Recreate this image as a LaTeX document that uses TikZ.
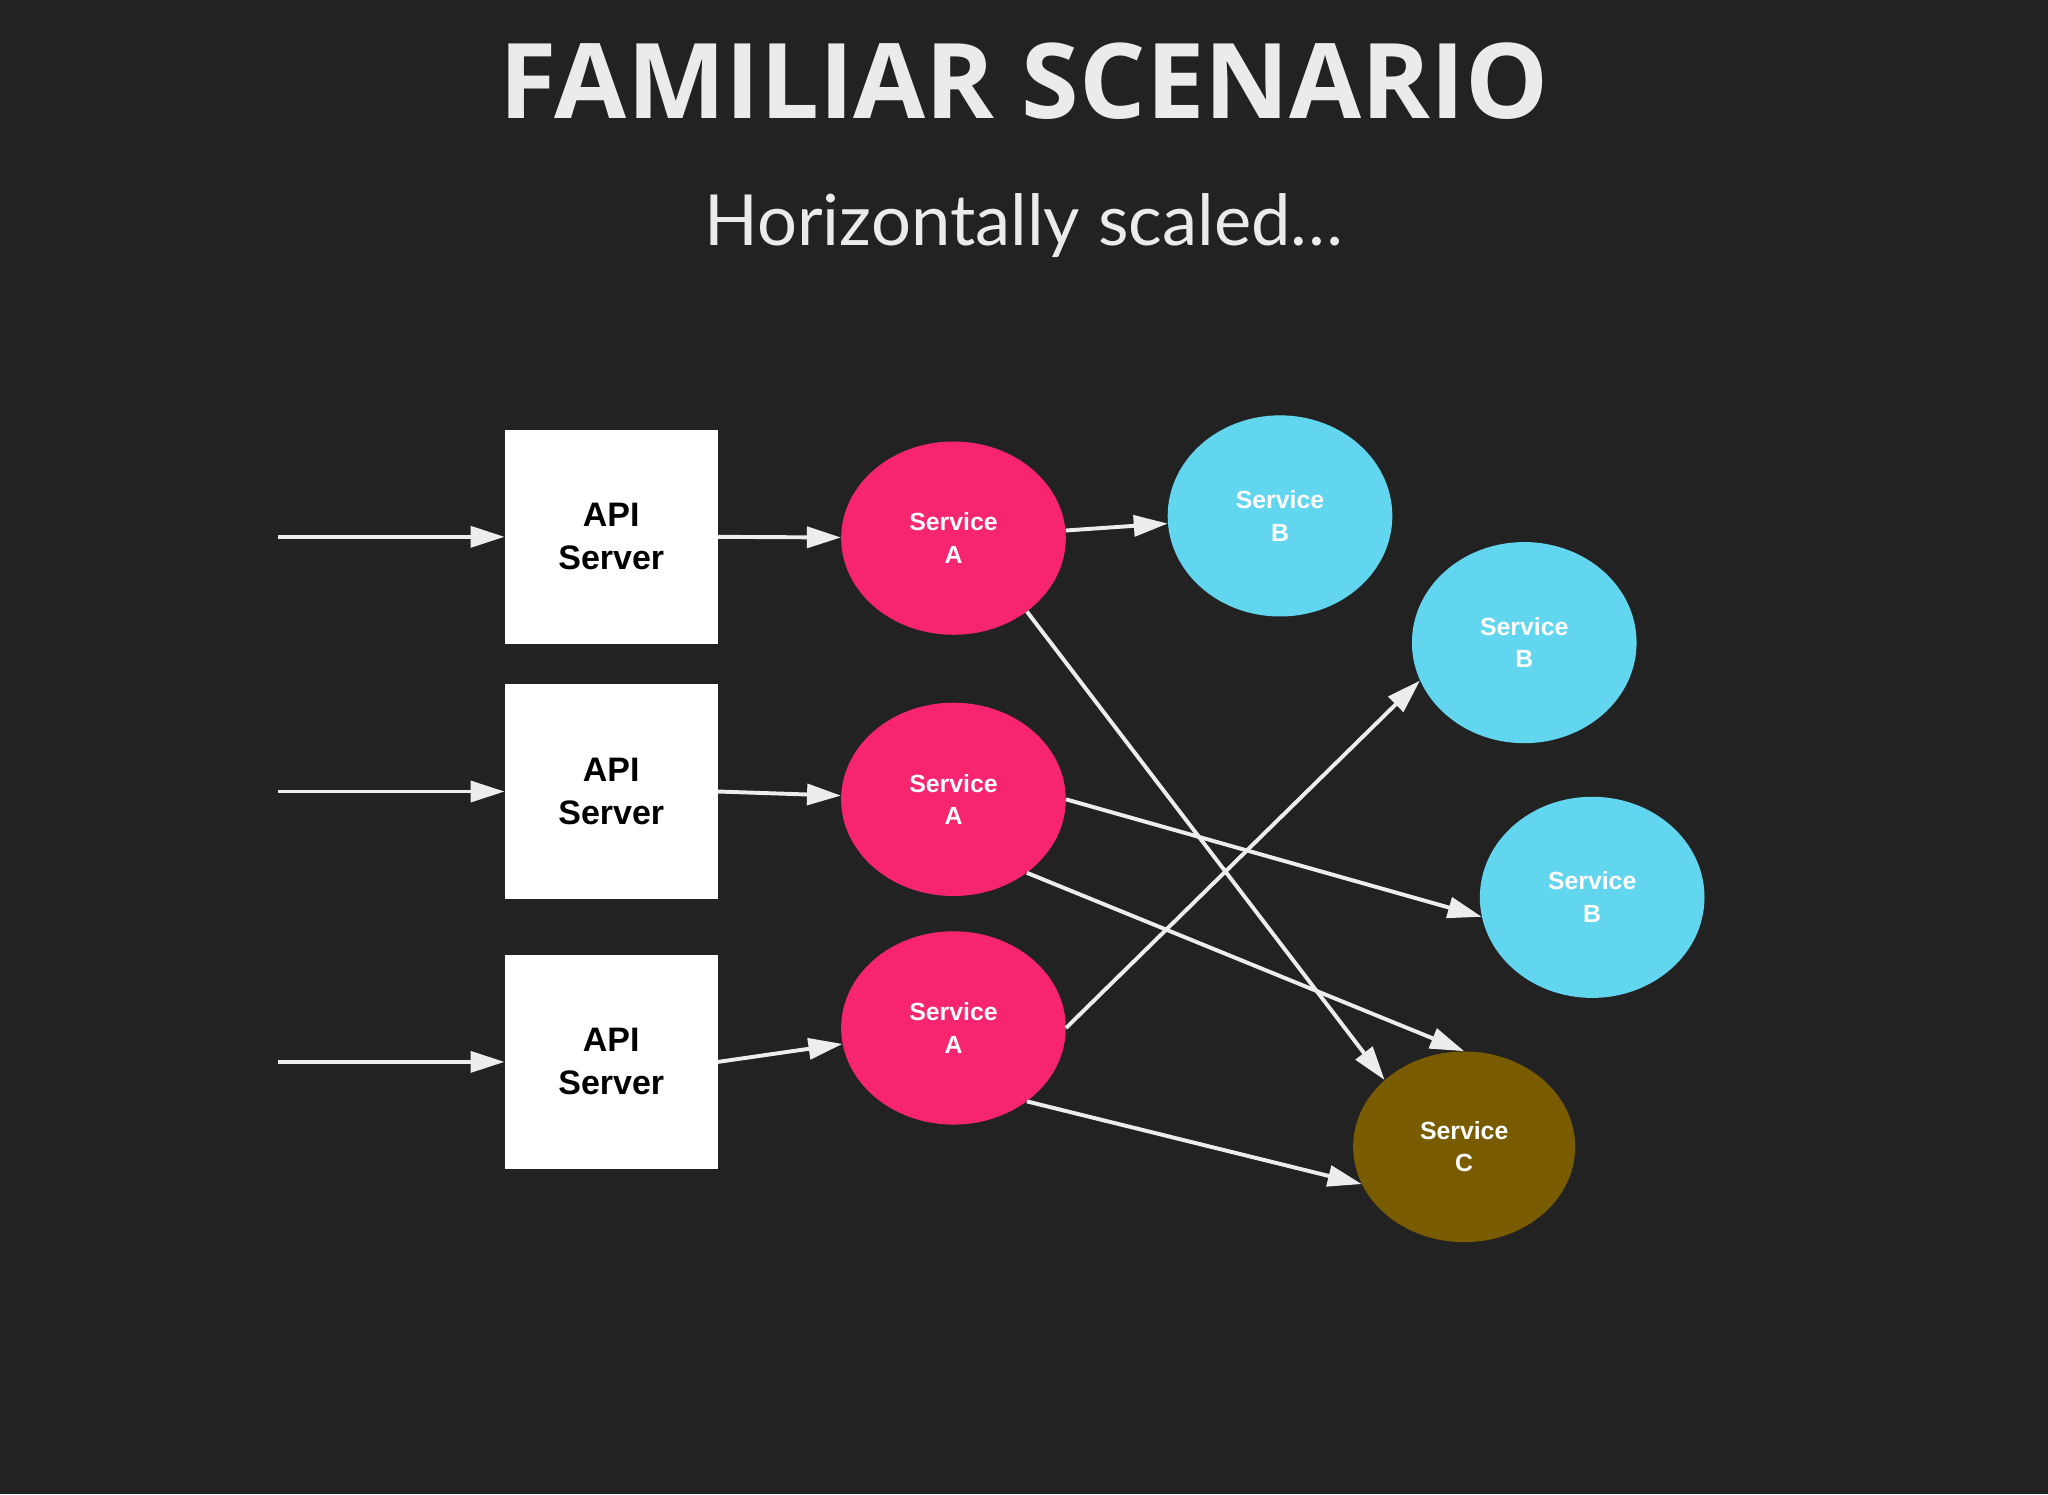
\documentclass[tikz,border=0pt]{standalone}
\usepackage{fontspec}
\setmainfont{Liberation Sans}
\newfontfamily\titlefont{Open Sans}
\newfontfamily\subfont{Lato}
\usetikzlibrary{arrows.meta,shapes.geometric}
\definecolor{bg}{HTML}{222222}
\definecolor{pinkA}{HTML}{F72470}
\definecolor{blueB}{HTML}{62D6EF}
\definecolor{brownC}{HTML}{7A5C00}
\begin{document}
\begin{tikzpicture}[x=1pt,y=-1pt,
  apibox/.style={fill=white,minimum width=163pt,minimum height=164pt,inner sep=0pt,align=center,font=\fontsize{26}{33}\selectfont\bfseries,text=black},
  svc/.style={ellipse,minimum width=172pt,minimum height=148pt,inner sep=0pt,align=center,font=\fontsize{19}{25}\selectfont\bfseries,text=white},
  arr/.style={draw=white!93!black,line width=3pt,-{Triangle[length=26pt,width=16pt]}}]
\fill[bg] (0,0) rectangle (1568,1144);
\useasboundingbox (0,0) rectangle (1568,1144);
\node[font=\titlefont\fontsize{80}{90}\selectfont\bfseries,text=white!92!black] (title) at (784,62) {FAMILIAR SCENARIO};
\node[font=\subfont\fontsize{54}{60}\selectfont,text=white!92!black] (sub) at (784,173) {Horizontally scaled\ldots};
\node[apibox] (p1) at (468,411) {API\\Server};
\node[apibox] (p2) at (468,606) {API\\Server};
\node[apibox] (p3) at (468,813) {API\\Server};
\coordinate (i1) at (213,411);
\coordinate (i2) at (213,606);
\coordinate (i3) at (213,813);
\node[svc,fill=pinkA] (a1) at (730,412) {Service\\A};
\node[svc,fill=pinkA] (a2) at (730,612) {Service\\A};
\node[svc,fill=pinkA] (a3) at (730,787) {Service\\A};
\node[svc,fill=blueB,minimum height=154pt] (b1) at (980,395) {Service\\B};
\node[svc,fill=blueB,minimum height=154pt] (b2) at (1167,492) {Service\\B};
\node[svc,fill=blueB,minimum height=154pt] (b3) at (1219,687) {Service\\B};
\node[svc,fill=brownC,minimum width=170pt,minimum height=146pt] (c) at (1121,878) {Service\\C};
\draw[arr] (i1) -- (p1);
\draw[arr] (i2) -- (p2);
\draw[arr] (i3) -- (p3);
\draw[arr] (p1.east) -- (a1);
\draw[arr] (p2.east) -- (a2);
\draw[arr] (p3.east) -- (a3);
\draw[arr] (a1) -- (b1);
\draw[arr] (a1.-45) -- (c.140);
\draw[arr] (a2.east) -- (b3.190);
\draw[arr] (a2.-45) -- (c.north);
\draw[arr] (a3.east) -- (b2.200);
\draw[arr] (a3.-45) -- (c.200);
\end{tikzpicture}
\end{document}
